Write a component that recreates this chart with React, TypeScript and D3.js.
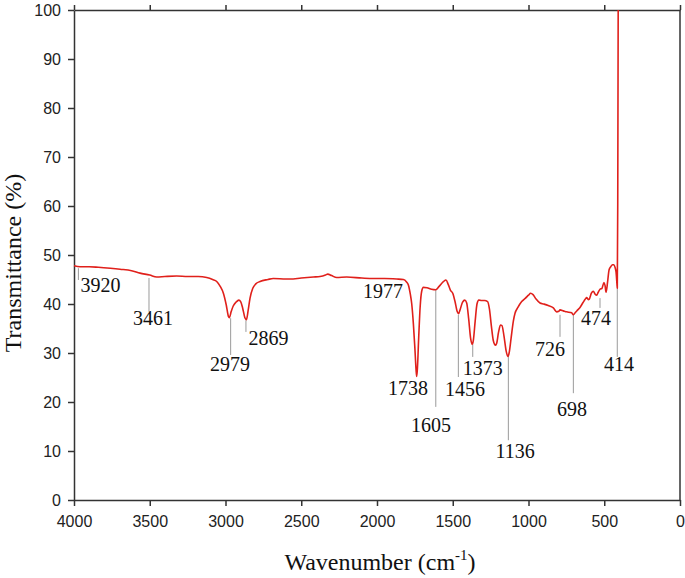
import React, { useEffect, useRef } from "react";
import * as d3 from "d3";

// FTIR spectrum: wavenumber (cm-1), transmittance (%)
const wavenumbers = [
  4000, 3960, 3900, 3840, 3760, 3696, 3620, 3564, 3500, 3454, 3400, 3322, 3250, 3180, 3124,
  3085, 3058, 3035, 3014, 2995, 2980, 2975, 2962, 2949, 2930, 2912, 2900, 2887, 2872, 2862,
  2850, 2838, 2820, 2800, 2772, 2720, 2685, 2600, 2574, 2500, 2420, 2376, 2340, 2325, 2300,
  2266, 2200, 2100, 2024, 1950, 1870, 1826, 1805, 1793, 1780, 1771, 1760, 1750, 1742, 1738,
  1733, 1725, 1715, 1705, 1694, 1670, 1640, 1612, 1590, 1560, 1545, 1530, 1515, 1500, 1485,
  1470, 1462, 1450, 1435, 1420, 1408, 1395, 1382, 1372, 1364, 1352, 1340, 1328, 1310, 1290,
  1270, 1258, 1245, 1232, 1218, 1210, 1198, 1185, 1175, 1162, 1148, 1136, 1128, 1115, 1100,
  1089, 1070, 1045, 1020, 1000, 986, 970, 950, 924, 900, 870, 836, 814, 800, 792,
  770, 748, 715, 704, 690, 675, 660, 640, 625, 616, 605, 599, 585, 572, 560,
  550, 540, 528, 515, 502, 495, 488, 478, 468, 457, 446, 436, 428, 422, 416,
  414, 411, 408,
];
const transmittance = [
  47.8, 47.6, 47.6, 47.5, 47.3, 47.1, 46.8, 46.3, 45.9, 45.5, 45.6, 45.7, 45.6, 45.6, 45.4,
  45.0, 44.6, 43.6, 42.2, 39.8, 37.4, 37.2, 38.5, 39.6, 40.4, 40.8, 40.5, 39.2, 37.2, 36.8,
  38.8, 41.2, 43.2, 44.1, 44.6, 45.0, 45.2, 45.1, 45.1, 45.3, 45.5, 45.6, 45.9, 46.1, 45.8,
  45.4, 45.5, 45.3, 45.2, 45.2, 45.1, 45.0, 44.5, 43.9, 42.0, 40.1, 36.0, 31.0, 26.5, 25.2,
  27.0, 33.0, 39.5, 42.6, 43.4, 43.3, 43.0, 42.9, 43.6, 44.6, 44.9, 44.0, 42.8, 42.2, 40.5,
  38.4, 38.0, 39.0, 40.4, 40.8, 40.2, 37.0, 33.0, 31.8, 32.6, 36.5, 40.0, 40.8, 40.7, 40.7,
  40.5, 39.0, 35.5, 32.5, 31.6, 32.0, 34.2, 35.7, 35.6, 33.5, 30.5, 29.3, 30.0, 33.0, 36.5,
  38.1, 39.3, 40.5, 41.2, 41.8, 42.2, 41.9, 41.0, 40.2, 40.0, 39.7, 39.2, 38.4, 38.5, 38.8,
  38.6, 38.4, 38.2, 37.8, 38.3, 38.8, 39.3, 40.3, 41.0, 41.3, 40.9, 41.0, 42.2, 42.6, 42.0,
  41.8, 42.4, 43.0, 43.2, 44.4, 43.8, 42.4, 44.5, 47.0, 47.6, 48.0, 48.0, 47.4, 46.5, 44.0,
  43.2, 60.0, 100.0,
];

const xTicks = [4000, 3500, 3000, 2500, 2000, 1500, 1000, 500, 0];
const yTicks = [0, 10, 20, 30, 40, 50, 60, 70, 80, 90, 100];

// Peak callouts: label text, leader line wavenumber + its T range, label anchor (wn, T)
const peakLabels = ["3920", "3461", "2979", "2869", "1977", "1738", "1605", "1456", "1373", "1136", "726", "698", "474", "414"];
const leaderWn = [3971, 3505, 2966, 2865, null, null, 1612, 1463, 1368, 1133, 792, 704, 528, 414];
const leaderTop = [47.3, 45.3, 37.1, 36.7, null, null, 42.9, 37.8, 31.8, 29.4, 37.8, 37.8, 41.2, 43.3];
const leaderBottom = [44.9, 38.4, 29.6, 34.3, null, null, 19.0, 25.1, 29.2, 12.2, 33.3, 21.8, 39.2, 29.2];
const labelWn = [3825, 3479, 2970, 2716, 1961, 1796, 1644, 1419, 1302, 1089, 858, 713, 555, 403];
const labelT = [42.4, 35.7, 26.3, 31.6, 41.2, 21.4, 13.9, 21.2, 25.6, 8.6, 29.4, 17.1, 35.7, 26.3];

const W = 685;
const H = 578;
const margin = { top: 10, right: 5, bottom: 78, left: 74 };

export default function App() {
  const svgRef = useRef<SVGSVGElement>(null);

  useEffect(() => {
    const svg = d3.select(svgRef.current);
    svg.selectAll("*").remove();

    const x = d3.scaleLinear().domain([4000, 0]).range([margin.left, W - margin.right]);
    const y = d3.scaleLinear().domain([0, 100]).range([H - margin.bottom, margin.top]);
    const axisColor = "#333";
    const serif = "Liberation Serif, Times New Roman, serif";

    const styleAxis = (g: any) => {
      g.selectAll(".domain").attr("stroke", axisColor).attr("stroke-width", 1.5);
      g.selectAll(".tick line").attr("stroke", axisColor).attr("stroke-width", 1.5);
      g.selectAll("text")
        .attr("font-family", "Liberation Sans, Arial, sans-serif")
        .attr("font-size", 16)
        .attr("fill", "#222");
    };

    svg
      .append("g")
      .attr("transform", `translate(0,${y(0)})`)
      .call(d3.axisBottom(x).tickValues(xTicks).tickFormat(d3.format("d")).tickSize(6).tickSizeOuter(0).tickPadding(10))
      .call(styleAxis);

    svg
      .append("g")
      .attr("transform", `translate(0,${y(100)})`)
      .call(d3.axisTop(x).tickValues(xTicks).tickFormat(() => "").tickSize(5).tickSizeOuter(0))
      .call(styleAxis);

    svg
      .append("g")
      .attr("transform", `translate(${x(4000)},0)`)
      .call(d3.axisLeft(y).tickValues(yTicks).tickSize(6).tickSizeOuter(0).tickPadding(7))
      .call(styleAxis);

    svg
      .append("line")
      .attr("x1", x(0))
      .attr("x2", x(0))
      .attr("y1", y(0))
      .attr("y2", y(100))
      .attr("stroke", axisColor)
      .attr("stroke-width", 1.5);

    // leader lines
    const callouts = peakLabels.map((label, i) => ({
      label,
      lw: leaderWn[i],
      lt: leaderTop[i],
      lb: leaderBottom[i],
      tw: labelWn[i],
      tt: labelT[i],
    }));

    svg
      .append("g")
      .selectAll("line")
      .data(callouts.filter((d) => d.lw !== null))
      .join("line")
      .attr("x1", (d) => x(d.lw as number))
      .attr("x2", (d) => x(d.lw as number))
      .attr("y1", (d) => y(d.lt as number))
      .attr("y2", (d) => y(d.lb as number))
      .attr("stroke", "#9a9a9a")
      .attr("stroke-width", 1);

    const pts: [number, number][] = wavenumbers.map((w, i) => [w, transmittance[i]]);
    const line = d3
      .line<[number, number]>()
      .x((d) => x(d[0]))
      .y((d) => y(d[1]))
      .curve(d3.curveMonotoneX);

    svg
      .append("path")
      .datum(pts)
      .attr("fill", "none")
      .attr("stroke", "#e0201b")
      .attr("stroke-width", 1.6)
      .attr("stroke-linejoin", "round")
      .attr("d", line);

    svg
      .append("g")
      .selectAll("text")
      .data(callouts)
      .join("text")
      .attr("x", (d) => x(d.tw))
      .attr("y", (d) => y(d.tt))
      .attr("text-anchor", "middle")
      .attr("font-family", serif)
      .attr("font-size", 20)
      .attr("fill", "#111")
      .text((d) => d.label);

    svg
      .append("text")
      .attr("transform", `translate(21,${(y(0) + y(100)) / 2 + 8}) rotate(-90)`)
      .attr("text-anchor", "middle")
      .attr("font-family", serif)
      .attr("font-size", 24)
      .attr("fill", "#111")
      .text("Transmittance (%)");

    const xt = svg
      .append("text")
      .attr("x", 380)
      .attr("y", 570)
      .attr("text-anchor", "middle")
      .attr("font-family", serif)
      .attr("font-size", 24)
      .attr("fill", "#111");
    xt.append("tspan").text("Wavenumber (cm");
    xt.append("tspan").attr("font-size", 15).attr("dy", -10).text("-1");
    xt.append("tspan").attr("dy", 10).text(")");
  }, []);

  return (
    <div style={{ position: "absolute", left: 0, top: 0 }}>
      <svg ref={svgRef} width={W} height={H} style={{ background: "#fff", display: "block" }}></svg>
    </div>
  );
}
